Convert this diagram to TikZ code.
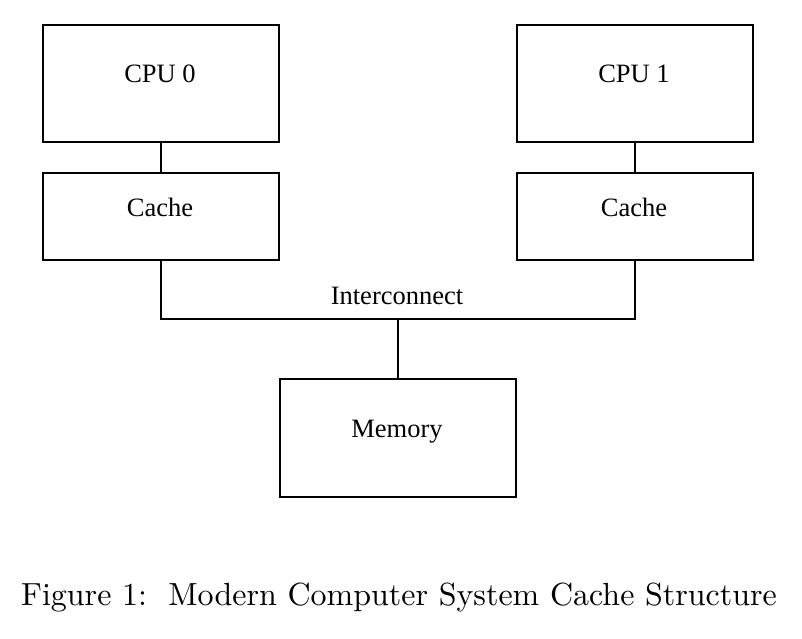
\documentclass[tikz,border=0pt]{standalone}
\usepackage{fontspec}
\newfontfamily\boxfont{Liberation Serif}
\begin{document}
\begin{tikzpicture}[x=1pt,y=-1pt,
  unitbox/.style={draw,line width=1.6pt,minimum width=236pt,inner sep=0pt,anchor=north west},
  boxtext/.style={font=\boxfont\fontsize{26.5}{30}\selectfont,inner sep=0pt,anchor=base},
  wire/.style={line width=1.6pt}]
\useasboundingbox (0,0) rectangle (802,638);
\node[unitbox,minimum height=117pt] (cpu0) at (42,24) {};
\node[unitbox,minimum height=87pt] (cache0) at (42,172) {};
\node[unitbox,minimum height=117pt] (cpu1) at (516,24) {};
\node[unitbox,minimum height=87pt] (cache1) at (516,172) {};
\node[unitbox,minimum height=118pt] (mem) at (279,378) {};
\node[boxtext] (t0) at (160,82.5) {CPU 0};
\node[boxtext] (t1) at (634,82.5) {CPU 1};
\node[boxtext] (tc0) at (160,216.5) {Cache};
\node[boxtext] (tc1) at (634,216.5) {Cache};
\node[boxtext] (tm) at (397,437) {Memory};
\node[boxtext] (ti) at (397,304) {Interconnect};
\coordinate (bus) at (397,319);
\draw[wire] (cpu0.south) -- (cache0.north);
\draw[wire] (cpu1.south) -- (cache1.north);
\draw[wire] (cache0.south) |- (bus) -| (cache1.south);
\draw[wire] (mem.north) -- (mem.north |- bus);
\node[scale=3.2,inner sep=0pt,anchor=base] (cap) at (399,605) {Figure 1:\ \ Modern Computer System Cache Structure};
\end{tikzpicture}
\end{document}
